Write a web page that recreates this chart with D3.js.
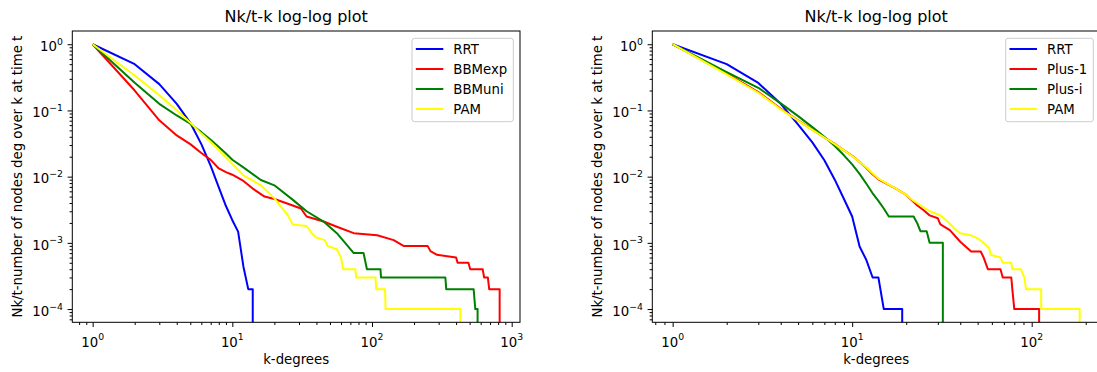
<!DOCTYPE html>
<html><head><meta charset="utf-8">
<script src="https://cdn.jsdelivr.net/npm/d3@7"></script>
<style>
body{margin:0;background:#fff;}
svg{display:block;font-family:"DejaVu Sans",sans-serif;}
</style>
</head><body>
<svg id="chart" width="1097" height="372"></svg>
<script>
// ---------------- data ----------------
const titleText = "Nk/t-k log-log plot";
const xLabelText = "k-degrees";
const yLabelText = "Nk/t-number of nodes deg over k at time t";
const yTickExponents = [0, -1, -2, -3, -4];
const xTickExponentsLeft = [0, 1, 2, 3];
const xTickExponentsRight = [0, 1, 2];

const leftNames = ["RRT", "BBMexp", "BBMuni", "PAM"];
const rightNames = ["RRT", "Plus-1", "Plus-i", "PAM"];

// left panel
const leftRRTk = [1, 2, 3, 4, 5, 6, 7, 8, 9, 10, 11, 12, 13, 14, 14];
const leftRRTy = [1, 0.5, 0.25, 0.126, 0.065, 0.031, 0.0145, 0.0069, 0.0036, 0.0022, 0.00148, 0.00044, 0.0002, 0.0002, 0];

const leftBBMexpK = [1, 2, 3, 4, 5, 6, 7, 8, 9, 10, 12, 14, 17, 20, 25, 31, 34, 45, 56, 74, 109, 143, 168, 250, 262, 292, 400, 410, 490, 505, 620, 635, 675, 690, 820, 820];
const leftBBMexpY = [1, 0.2, 0.071, 0.042, 0.031, 0.0228, 0.0179, 0.0133, 0.0117, 0.0107, 0.0086, 0.0066, 0.005, 0.0046, 0.0039, 0.0033, 0.0025, 0.0021, 0.00175, 0.0014, 0.0013, 0.0011, 0.0009, 0.0009, 0.00075, 0.00066, 0.0006, 0.0005, 0.0005, 0.0004, 0.0004, 0.0003, 0.0003, 0.0002, 0.0002, 0];

const leftBBMuniK = [1, 2, 3, 4, 5, 6, 7, 8, 9, 10, 12, 16, 20, 27, 34, 45, 56, 66, 74, 87, 92, 115, 116, 335, 340, 534, 549, 570, 570];
const leftBBMuniY = [1, 0.262, 0.126, 0.084, 0.063, 0.047, 0.036, 0.028, 0.0224, 0.018, 0.0138, 0.0089, 0.0074, 0.0045, 0.003, 0.0021, 0.0014, 0.00093, 0.0007, 0.0007, 0.0004, 0.0004, 0.0003, 0.0003, 0.0002, 0.0002, 0.0001, 0.0001, 0];

const leftPAMk = [1, 2, 3, 4, 5, 6, 7, 8, 10, 12, 16, 20, 25, 27, 34, 37, 40, 46, 48, 56, 60, 62, 76, 77, 106, 107, 124, 125, 429, 429];
const leftPAMy = [1, 0.338, 0.17, 0.101, 0.0655, 0.0447, 0.0334, 0.0253, 0.0156, 0.0105, 0.0074, 0.0047, 0.0026, 0.0019, 0.0018, 0.0014, 0.0012, 0.0011, 0.0009, 0.0008, 0.0006, 0.0004, 0.0004, 0.0003, 0.0003, 0.0002, 0.0002, 0.0001, 0.0001, 0];

// right panel
const rightRRTk = [1, 2, 3, 4, 5, 6, 7, 8, 9, 10, 11, 12, 13, 14, 15, 19, 19];
const rightRRTy = [1, 0.5, 0.26, 0.126, 0.061, 0.033, 0.0177, 0.009, 0.0046, 0.0025, 0.00088, 0.00055, 0.0003, 0.0003, 0.0001, 0.0001, 0];

const rightPlus1k = [1, 2, 3, 4, 5, 6, 7, 8, 9, 10, 11, 12, 13, 14, 16, 18, 20, 23, 25, 27, 30, 31, 35, 40, 46, 52, 54, 57, 67, 69, 77, 78, 80, 110, 110];
const rightPlus1y = [1, 0.36, 0.19, 0.106, 0.071, 0.0514, 0.039, 0.0312, 0.0249, 0.0207, 0.0166, 0.0135, 0.0109, 0.0091, 0.0075, 0.0063, 0.0053, 0.0037, 0.0031, 0.0026, 0.00235, 0.0019, 0.00156, 0.00104, 0.00074, 0.00074, 0.0006, 0.0004, 0.0004, 0.0003, 0.0003, 0.0002, 0.0001, 0.0001, 0];

const rightPlusIk = [1, 2, 3, 4, 5, 6, 7, 8, 9, 10, 11, 12, 13, 14, 15, 16, 22, 23, 24, 26, 27, 32, 32];
const rightPlusIy = [1, 0.38, 0.22, 0.128, 0.082, 0.056, 0.04, 0.029, 0.021, 0.0153, 0.011, 0.0078, 0.0056, 0.0043, 0.0033, 0.0025, 0.0025, 0.002, 0.0015, 0.0015, 0.001, 0.001, 0];

const rightPAMk = [1, 2, 3, 4, 5, 6, 7, 8, 9, 10, 12, 14, 16, 18, 20, 22, 24, 27, 31, 34, 37, 40, 46, 50, 54, 58, 59, 67, 69, 77, 78, 87, 91, 93, 113, 113, 185, 185];
const rightPAMy = [1, 0.35, 0.185, 0.104, 0.07, 0.051, 0.039, 0.031, 0.025, 0.0205, 0.0137, 0.0093, 0.0076, 0.0063, 0.0053, 0.0043, 0.0037, 0.003, 0.0026, 0.0021, 0.00166, 0.0014, 0.0013, 0.00117, 0.001, 0.00083, 0.00066, 0.0006, 0.0005, 0.0005, 0.0004, 0.0004, 0.0003, 0.0002, 0.0002, 0.0001, 0.0001, 0];

// ---------------- drawing ----------------
const seriesColors = ["#0000ff", "#ff0000", "#008000", "#ffff00"];
const zip = (ks, ys) => ks.map((k, i) => ({k: k, y: ys[i]}));

const panels = [
  {left: 72.3, names: leftNames, xExp: xTickExponentsLeft,
   series: [zip(leftRRTk, leftRRTy), zip(leftBBMexpK, leftBBMexpY), zip(leftBBMuniK, leftBBMuniY), zip(leftPAMk, leftPAMy)]},
  {left: 652.3, names: rightNames, xExp: xTickExponentsRight,
   series: [zip(rightRRTk, rightRRTy), zip(rightPlus1k, rightPlus1y), zip(rightPlusIk, rightPlusIy), zip(rightPAMk, rightPAMy)]}
];

const svg = d3.select("#chart");
const W = 447.7, H = 291.3, TOP = 31;
const FS = 13.3;

function logPad(lo, hi) {
  const a = Math.log10(lo), b = Math.log10(hi), m = (b - a) * 0.05;
  return [Math.pow(10, a - m), Math.pow(10, b + m)];
}

panels.forEach((p, pi) => {
  const allPts = p.series.flat();
  const xDom = logPad(d3.min(allPts, d => d.k), d3.max(allPts, d => d.k));
  const pos = allPts.filter(d => d.y > 0);
  const yDom = logPad(d3.min(pos, d => d.y), d3.max(pos, d => d.y));
  const x = d3.scaleLog().domain(xDom).range([0, W]);
  const y = d3.scaleLog().domain(yDom).range([H, 0]);

  const g = svg.append("g").attr("transform", `translate(${p.left},${TOP})`);
  const clipId = "clip" + pi;
  g.append("clipPath").attr("id", clipId).append("rect").attr("width", W).attr("height", H);

  // lines
  const line = d3.line().x(d => x(d.k)).y(d => d.y > 0 ? y(d.y) : H + 60);
  const plot = g.append("g").attr("clip-path", `url(#${clipId})`);
  p.series.forEach((s, si) => {
    plot.append("path").datum(s).attr("d", line)
      .attr("fill", "none").attr("stroke", seriesColors[si])
      .attr("stroke-width", 2).attr("stroke-linejoin", "round");
  });

  // ticks
  const isMajor = v => Math.abs(Math.log10(v) - Math.round(Math.log10(v))) < 1e-9;
  const xt = x.ticks(), yt = y.ticks();
  const xMajor = xt.filter(isMajor), xMinor = xt.filter(v => !isMajor(v));
  const yMajor = yt.filter(isMajor), yMinor = yt.filter(v => !isMajor(v));

  const styleAxis = sel => { sel.select(".domain").remove(); sel.selectAll("line").attr("stroke", "#000").attr("stroke-width", 1); };
  g.append("g").attr("transform", `translate(0,${H})`)
    .call(d3.axisBottom(x).tickValues(xMajor).tickSize(4.7).tickFormat("")).call(styleAxis);
  g.append("g").attr("transform", `translate(0,${H})`)
    .call(d3.axisBottom(x).tickValues(xMinor).tickSize(2.7).tickFormat("")).call(styleAxis);
  g.append("g").call(d3.axisLeft(y).tickValues(yMajor).tickSize(4.7).tickFormat("")).call(styleAxis);
  g.append("g").call(d3.axisLeft(y).tickValues(yMinor).tickSize(2.7).tickFormat("")).call(styleAxis);

  const fmtExp = e => (e < 0 ? "\u2212" + (-e) : String(e));

  // x tick labels
  p.xExp.forEach(e => {
    const t = g.append("text").attr("x", x(Math.pow(10, e))).attr("y", H + 24.2)
      .attr("text-anchor", "middle").attr("font-size", FS).attr("fill", "#000");
    t.append("tspan").text("10");
    t.append("tspan").attr("dy", -6.3).attr("font-size", 9.3).text(fmtExp(e));
  });
  // y tick labels
  yTickExponents.forEach(e => {
    const t = g.append("text").attr("x", -9.4).attr("y", y(Math.pow(10, e)) + 6.8)
      .attr("text-anchor", "end").attr("font-size", FS).attr("fill", "#000");
    t.append("tspan").text("10");
    t.append("tspan").attr("dy", -6.3).attr("font-size", 9.3).text(fmtExp(e));
  });

  // spines
  g.append("rect").attr("width", W).attr("height", H).attr("fill", "none")
    .attr("stroke", "#000").attr("stroke-width", 1);

  // title and labels
  g.append("text").attr("x", W / 2).attr("y", -9).attr("text-anchor", "middle")
    .attr("font-size", 16).attr("fill", "#000").text(titleText);
  g.append("text").attr("x", W / 2).attr("y", H + 42).attr("text-anchor", "middle")
    .attr("font-size", FS).attr("fill", "#000").text(xLabelText);
  g.append("text").attr("transform", `translate(${-50.5},${H / 2}) rotate(-90)`)
    .attr("text-anchor", "middle").attr("font-size", FS).attr("fill", "#000").text(yLabelText);

  // legend
  const lg = g.append("g");
  const box = lg.append("rect");
  const labels = p.names.map((n, i) => lg.append("text").attr("font-size", FS).attr("fill", "#000").text(n));
  const maxW = d3.max(labels, t => t.node().getComputedTextLength());
  const boxW = 3.8 + 27.5 + 10 + maxW + 6;
  const bx = W - 6.7 - boxW, by = 7.3, bh = 83.4;
  box.attr("x", bx).attr("y", by).attr("width", boxW).attr("height", bh)
    .attr("rx", 2.5).attr("fill", "#fff").attr("fill-opacity", 0.8)
    .attr("stroke", "#cccccc").attr("stroke-width", 1);
  p.names.forEach((n, i) => {
    const cy = 18 + i * 20;
    lg.append("line").attr("x1", bx + 3.8).attr("x2", bx + 3.8 + 27.5).attr("y1", cy).attr("y2", cy)
      .attr("stroke", seriesColors[i]).attr("stroke-width", 2);
    labels[i].attr("x", bx + 3.8 + 27.5 + 10).attr("y", cy + 4.8);
  });
});
</script>
</body></html>
